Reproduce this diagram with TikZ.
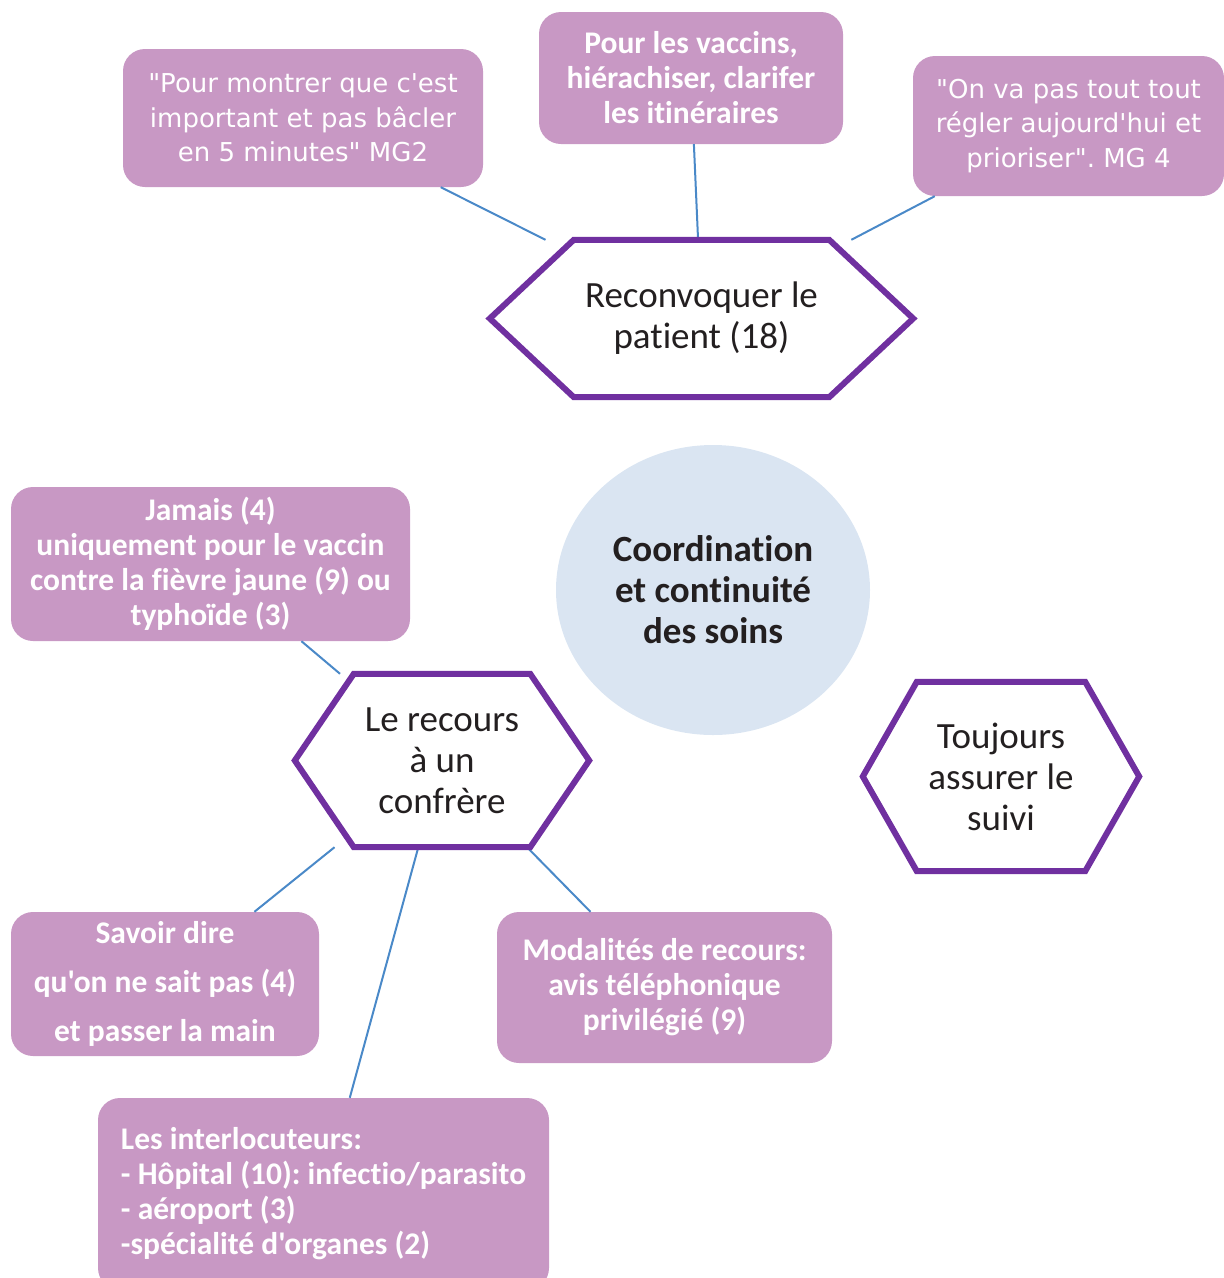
\documentclass[tikz,border=0pt]{standalone}
\usepackage{fontspec}
\setmainfont{Carlito}[Ligatures={TeXOff,CommonOff}]
\newfontfamily\quotefont{DejaVu Sans}[Ligatures={TeXOff,CommonOff}]
\usetikzlibrary{shapes.geometric}
\frenchspacing

\definecolor{boxpurple}{HTML}{C898C4}
\definecolor{hexpurple}{HTML}{7030A0}
\definecolor{linkblue}{HTML}{4A89C8}
\definecolor{circblue}{HTML}{DAE5F2}
\definecolor{darktext}{HTML}{231F20}

\tikzset{
  idea/.style={rectangle,rounded corners=22pt,fill=boxpurple,text=white,align=center,
    inner sep=0pt,font=\bfseries\fontsize{31.5}{35}\selectfont},
  quotebox/.style={idea,font=\quotefont\fontsize{26}{34.5}\selectfont},
  hexa/.style={align=center,inner sep=0pt,text=darktext,font=\fontsize{37}{41}\selectfont},
  linkline/.style={draw=linkblue,line width=2pt},
  hexline/.style={draw=hexpurple,line width=6pt}
}

\begin{document}
\begin{tikzpicture}[x=1pt,y=-1pt]
  \useasboundingbox (0,0) rectangle (1224,1278);
  % top branch
  \node[quotebox,minimum width=360pt,minimum height=138pt] (mgtwo) at (303,118)
    {"Pour montrer que c'est\\important et pas bâcler\\en 5 minutes" MG2};
  \node[idea,minimum width=304pt,minimum height=132pt] (vaccins) at (691,78)
    {Pour les vaccins,\\hiérachiser, clarifer\\les itinéraires};
  \node[quotebox,minimum width=311pt,minimum height=140pt] (mgfour) at (1068.5,126)
    {"On va pas tout tout\\régler aujourd'hui et\\prioriser". MG 4};
  \node[hexa,minimum width=423pt,minimum height=157pt] (recon) at (701.5,318.5)
    {Reconvoquer le\\patient (18)};

  % centre
  \node[ellipse,fill=circblue,minimum width=314pt,minimum height=290pt,align=center,
    text=darktext,font=\bfseries\fontsize{37}{41}\selectfont] (coord) at (713,590)
    {Coordination\\et continuité\\des soins};

  % left branch
  \node[idea,minimum width=399pt,minimum height=154pt] (jamais) at (210.5,564)
    {Jamais (4)\\uniquement pour le vaccin\\contre la fièvre jaune (9) ou\\typhoïde (3)};
  \node[hexa,minimum width=294pt,minimum height=173pt] (recours) at (442,760.5)
    {Le recours\\à un\\confrère};
  \node[idea,minimum width=308pt,minimum height=144pt,
    font=\bfseries\fontsize{31.5}{49}\selectfont] (savoir) at (165,984)
    {Savoir dire\\qu'on ne sait pas (4)\\et passer la main};
  \node[idea,minimum width=335pt,minimum height=151pt] (modal) at (664.5,987.5)
    {Modalités de recours:\\avis téléphonique\\privilégié (9)};
  \node[idea,align=left,minimum width=451pt,minimum height=192pt] (interloc) at (323.5,1194)
    {Les interlocuteurs:\\- Hôpital (10): infectio/parasito\\- aéroport (3)\\-spécialité d'organes (2)};

  % right
  \node[hexa,minimum width=276pt,minimum height=189pt] (suivi) at (1001,776.5)
    {Toujours\\assurer le\\suivi};

  \draw[linkline] (mgtwo) -- (recon);
  \draw[linkline] (vaccins) -- (recon);
  \draw[linkline] (mgfour) -- (recon);
  \draw[linkline] (jamais) -- (recours);
  \draw[linkline] (recours) -- (savoir);
  \draw[linkline] (recours) -- (interloc);
  \draw[linkline] (recours) -- (modal);

  \foreach \h/\c in {recon/84,recours/59,suivi/54}
    \draw[hexline] (\h.west) -- ([xshift=\c pt]\h.north west) -- ([xshift=-\c pt]\h.north east)
      -- (\h.east) -- ([xshift=-\c pt]\h.south east) -- ([xshift=\c pt]\h.south west) -- cycle;
\end{tikzpicture}
\end{document}
